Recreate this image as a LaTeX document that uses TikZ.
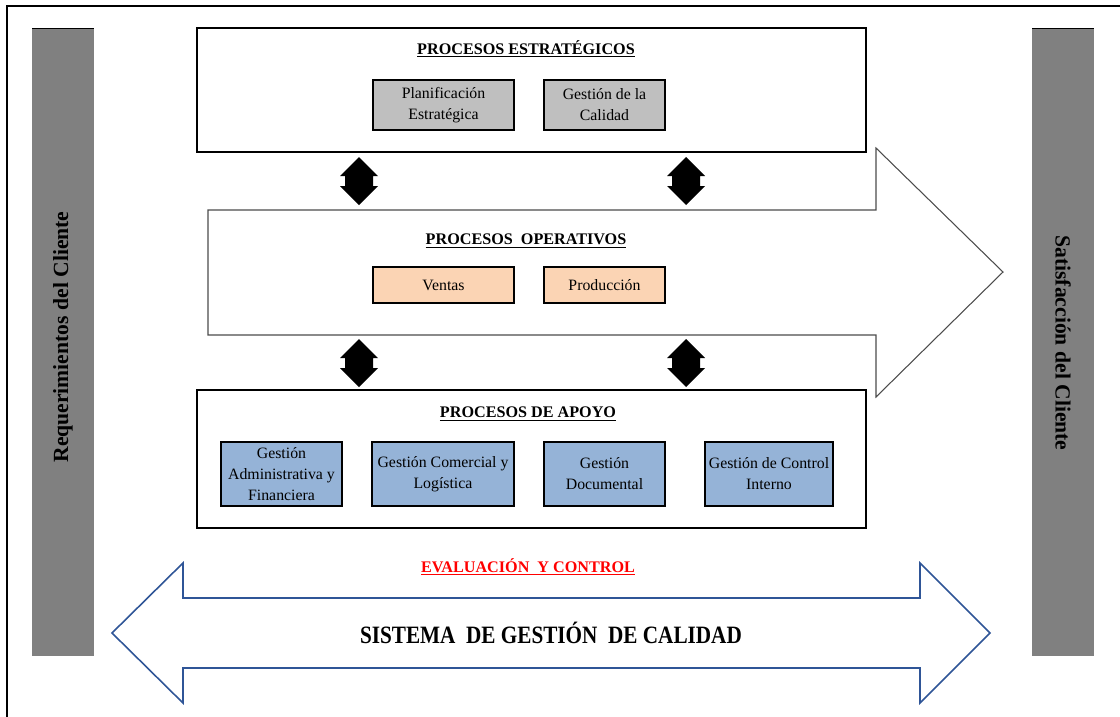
\documentclass[tikz,border=0pt]{standalone}
\usepackage{fontspec}
\setmainfont{Liberation Serif}
\newfontfamily\angosta[FakeStretch=0.85]{Liberation Serif}
\definecolor{grisbarra}{HTML}{808080}
\definecolor{griscaja}{HTML}{BFBFBF}
\definecolor{durazno}{HTML}{FBD4B4}
\definecolor{celeste}{HTML}{95B3D7}
\definecolor{azulsgc}{HTML}{2F5597}
\begin{document}
\begin{tikzpicture}[x=0.02cm, y=-0.02cm,
	barra/.style={fill=grisbarra},
	marco/.style={draw, line width=1.1pt},
	caja/.style={draw, line width=0.9pt, align=center, inner sep=1pt, font=\fontsize{9}{12}\selectfont},
	titulo/.style={font=\fontsize{9.2}{11}\selectfont\bfseries},
	lateral/.style={font=\fontsize{12.3}{14}\selectfont\bfseries},
	dflecha/.pic={\fill (0,-24) -- (19,-5) -- (14,-5) -- (14,5) -- (19,5) -- (0,24) -- (-19,5) -- (-14,5) -- (-14,-5) -- (-19,-5) -- cycle;}]
	\useasboundingbox (0,0) rectangle (1120,717);
	%rahmen
	\draw[line width=1.1pt] (7,717) -- (7,6) -- (1120,6);
	%seiten
	\fill[barra] (32,28) rectangle (94,656);
	\fill[barra] (1032,28) rectangle (1094,656);
	\draw (32,28) -- (94,28);
	\draw (1032,28) -- (1094,28);
	\node[lateral, rotate=90] (req) at (63,337) {Requerimientos del Cliente};
	\node[lateral, rotate=-90] (sat) at (1063,343) {Satisfacción del Cliente};
	%operativos
	\draw[draw=black!70, line width=0.6pt, fill=white] (208,210) -- (876,210) -- (876,148) -- (1003,272) -- (876,397) -- (876,335) -- (208,335) -- cycle;
	\node[titulo] (toper) at (526,241) {\underline{PROCESOS\ \ OPERATIVOS}};
	\node[caja, fill=durazno, minimum width=2.82cm, minimum height=0.72cm] (ventas) at (443.5,285) {Ventas};
	\node[caja, fill=durazno, minimum width=2.42cm, minimum height=0.72cm] (prod) at (604.5,285) {Producción};
	%estrategicos
	\node[marco, fill=white, minimum width=13.38cm, minimum height=2.48cm] (estr) at (531.5,90) {};
	\node[titulo] (testr) at (526,49) {\underline{PROCESOS ESTRATÉGICOS}};
	\node[caja, fill=griscaja, minimum width=2.82cm, minimum height=1cm] (plan) at (443.5,105) {Planificación\\Estratégica};
	\node[caja, fill=griscaja, minimum width=2.42cm, minimum height=1cm] (cal) at (604.5,105) {Gestión de la\\Calidad};
	%apoyo
	\node[marco, fill=white, minimum width=13.38cm, minimum height=2.76cm] (apoyo) at (531.5,459) {};
	\node[titulo] (tapoyo) at (528,414) {\underline{PROCESOS DE APOYO}};
	\node[caja, fill=celeste, minimum width=2.42cm, minimum height=1.28cm] (adm) at (281.5,474) {Gestión\\Administrativa y\\Financiera};
	\node[caja, fill=celeste, minimum width=2.84cm, minimum height=1.28cm] (com) at (443,474) {Gestión Comercial y\\Logística};
	\node[caja, fill=celeste, minimum width=2.42cm, minimum height=1.28cm] (doc) at (604.5,474) {Gestión\\Documental};
	\node[caja, fill=celeste, minimum width=2.56cm, minimum height=1.28cm] (ctrl) at (769,474) {Gestión de Control\\Interno};
	%pfeile
	\pic at (359,181) {dflecha};
	\pic at (686,181) {dflecha};
	\pic at (359,363) {dflecha};
	\pic at (686,363) {dflecha};
	%sistema
	\draw[azulsgc, line width=0.9pt, fill=white] (112,633) -- (183,563) -- (183,598) -- (920,598) -- (920,563) -- (990,633) -- (920,703) -- (920,668) -- (183,668) -- (183,703) -- cycle;
	\node[titulo, red] (eval) at (528,567) {\underline{EVALUACIÓN\ \ Y CONTROL}};
	\node[font=\fontsize{14.2}{16}\selectfont\angosta\bfseries] (sgc) at (551,633) {SISTEMA\ \ DE GESTIÓN\ \ DE CALIDAD};
\end{tikzpicture}
\end{document}
